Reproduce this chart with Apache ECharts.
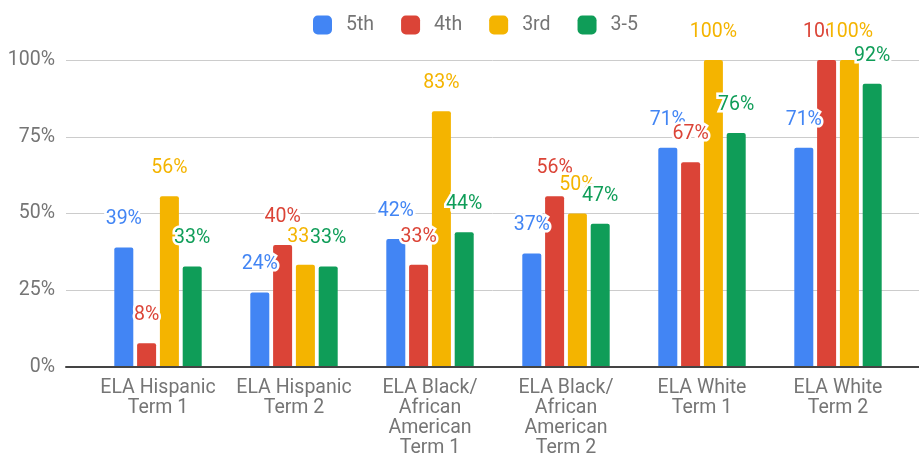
<!DOCTYPE html>
<html><head><meta charset="utf-8">
<script src="https://cdn.jsdelivr.net/npm/echarts@6/dist/echarts.min.js"></script>
<style>html,body{margin:0;padding:0;background:#fff}#c{width:919px;height:460px}</style>
</head><body><div id="c"></div>
<script>
const categories = ["ELA Hispanic\nTerm 1", "ELA Hispanic\nTerm 2", "ELA Black/\nAfrican\nAmerican\nTerm 1", "ELA Black/\nAfrican\nAmerican\nTerm 2", "ELA White\nTerm 1", "ELA White\nTerm 2"];
const seriesNames = ["5th", "4th", "3rd", "3-5"];
const v5th = [38.9, 24.3, 41.7, 37.0, 71.4, 71.4];
const v4th = [7.7, 39.7, 33.3, 55.6, 66.7, 100];
const v3rd = [55.6, 33.3, 83.3, 50.0, 100, 100];
const v35 = [32.7, 32.7, 43.9, 46.7, 76.2, 92.3];
const yTicks = [0, 25, 50, 75, 100];
const colors = ["#4285F4", "#DB4437", "#F4B400", "#0F9D58"];

const font = "Roboto, 'Noto Sans', sans-serif";
const fs = 19.5;
const chart = echarts.init(document.getElementById('c'), null, {renderer: 'canvas'});
const data = [v5th, v4th, v3rd, v35];
const series = data.map((d, i) => ({
  name: seriesNames[i], type: 'bar', xAxisIndex: 1, yAxisIndex: 1,
  data: d, barWidth: 19, barGap: '20%',
  itemStyle: {color: colors[i], borderRadius: [2, 2, 0, 0]},
  label: {show: true, position: 'top', distance: 18, color: colors[i], fontSize: fs, fontFamily: font,
    textBorderColor: '#fff', textBorderWidth: 5, formatter: p => Math.round(p.value) + '%'},
  z: 3
}));
chart.setOption({
  animation: false,
  color: colors,
  legend: {
    top: 10, left: 308, itemWidth: 19, itemHeight: 19, itemGap: 27, icon: 'roundRect',
    data: seriesNames,
    textStyle: {color: '#757575', fontSize: fs, fontFamily: font, padding: [0, 0, 0, 9]}
  },
  grid: [
    {left: 66, right: 0, top: 60, bottom: 93},
    {left: 90, right: 13, top: 60, bottom: 93}
  ],
  xAxis: [
    {gridIndex: 0, type: 'value', min: 0, max: 1, axisLine: {show: true, onZero: false, lineStyle: {color: '#444', width: 2}},
      axisLabel: {show: false}, axisTick: {show: false}, splitLine: {show: false}, z: 5},
    {gridIndex: 1, type: 'category', data: categories, axisLine: {show: false}, axisTick: {show: false},
      axisLabel: {color: '#757575', fontSize: fs, fontFamily: font, lineHeight: 20, margin: 11, interval: 0}}
  ],
  yAxis: [
    {gridIndex: 0, type: 'value', min: yTicks[0], max: yTicks[yTicks.length - 1], interval: 25,
      axisLine: {show: false}, axisTick: {show: false},
      axisLabel: {color: '#757575', fontSize: fs, fontFamily: font, margin: 11, formatter: v => v + '%'},
      splitLine: {lineStyle: {color: '#cccccc', width: 1}}},
    {gridIndex: 1, type: 'value', min: yTicks[0], max: yTicks[yTicks.length - 1], interval: 25, show: false,
      splitLine: {show: false}}
  ],
  series: series
});
</script></body></html>
